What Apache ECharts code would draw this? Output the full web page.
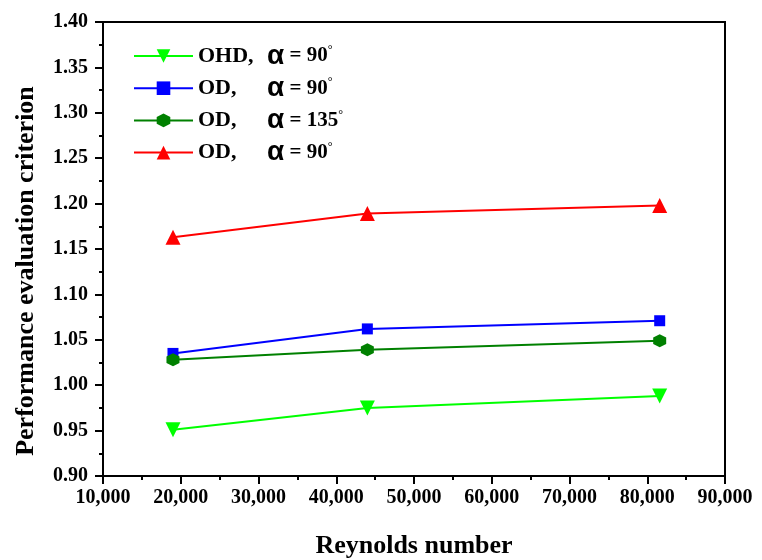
<!DOCTYPE html>
<html>
<head>
<meta charset="utf-8">
<script src="https://cdn.jsdelivr.net/npm/echarts@6/dist/echarts.min.js"></script>
<style>html,body{margin:0;padding:0;background:#fff}#c{width:762px;height:560px}</style>
</head>
<body>
<div id="c"></div>
<script>
var reynolds = [19000, 44000, 81600];
var ohd90 = [0.951, 0.975, 0.988];
var od90blue = [1.035, 1.062, 1.071];
var od135 = [1.028, 1.039, 1.049];
var od90red = [1.163, 1.189, 1.198];
var seriesNames = ['OHD, α = 90°', 'OD, α = 90° ', 'OD, α = 135°', 'OD,  α = 90°'];
var legendParts = [['OHD,', '90'], ['OD,', '90'], ['OD,', '135'], ['OD,', '90']];

function pairs(ys) { return reynolds.map(function (x, i) { return [x, ys[i]]; }); }
var serif = 'Liberation Serif';
var hexagon = 'path://M0,-10 L8.66,-5 L8.66,5 L0,10 L-8.66,5 L-8.66,-5 Z';

var chart = echarts.init(document.getElementById('c'));
chart.setOption({
  animation: false,
  backgroundColor: '#fff',
  grid: { left: 103, right: 37, top: 22, bottom: 84, outerBoundsMode: 'none', containLabel: false,
          show: true, borderColor: '#000', borderWidth: 2, backgroundColor: 'transparent' },
  legend: {
    orient: 'vertical', left: 133, top: 42, padding: 0, itemWidth: 59, itemHeight: 17, itemGap: 4.2,
    data: seriesNames,
    formatter: function (name) {
      var i = seriesNames.indexOf(name);
      var p = legendParts[i];
      return '{n|' + p[0] + '}{a|α}{b| = ' + p[1] + '}{d|°}';
    },
    textStyle: {
      color: '#000',
      rich: {
        n: { fontFamily: serif, fontWeight: 'bold', fontSize: 22, width: 69, lineHeight: 24, color: '#000' },
        a: { fontFamily: 'Liberation Sans', fontWeight: 'bold', fontSize: 28, lineHeight: 24, color: '#000' },
        b: { fontFamily: serif, fontWeight: 'bold', fontSize: 21, lineHeight: 24, color: '#000' },
        d: { fontFamily: serif, fontSize: 12, lineHeight: 24, verticalAlign: 'top', color: '#000' }
      }
    }
  },
  xAxis: {
    type: 'value', min: 10000, max: 90000, interval: 10000,
    name: 'Reynolds number', nameLocation: 'middle', nameGap: 57,
    nameTextStyle: { fontFamily: serif, fontWeight: 'bold', fontSize: 26, color: '#000' },
    axisLine: { show: true, lineStyle: { color: '#000', width: 2 } },
    axisTick: { show: true, inside: false, length: 8, lineStyle: { color: '#000', width: 2 } },
    minorTick: { show: true, splitNumber: 2, length: 4, lineStyle: { color: '#000', width: 2 } },
    splitLine: { show: false },
    axisLabel: {
      margin: 12, fontFamily: serif, fontWeight: 'bold', fontSize: 20, color: '#000',
      formatter: function (v) { return v.toLocaleString('en-US'); }
    }
  },
  yAxis: {
    type: 'value', min: 0.9, max: 1.4, interval: 0.05,
    name: 'Performance evaluation criterion', nameLocation: 'middle', nameGap: 64,
    nameTextStyle: { fontFamily: serif, fontWeight: 'bold', fontSize: 26, color: '#000', padding: [0, 44, 0, 0] },
    axisLine: { show: true, lineStyle: { color: '#000', width: 2 } },
    axisTick: { show: true, inside: false, length: 8, lineStyle: { color: '#000', width: 2 } },
    minorTick: { show: true, splitNumber: 2, length: 4, lineStyle: { color: '#000', width: 2 } },
    splitLine: { show: false },
    axisLabel: {
      margin: 15, fontFamily: serif, fontWeight: 'bold', fontSize: 20, color: '#000',
      formatter: function (v) { return v.toFixed(2); }
    }
  },
  series: [
    { name: seriesNames[0], type: 'line', data: pairs(ohd90), symbol: 'triangle', symbolRotate: 180, symbolSize: 15,
      lineStyle: { color: '#00ff00', width: 2 }, itemStyle: { color: '#00ff00' } },
    { name: seriesNames[1], type: 'line', data: pairs(od90blue), symbol: 'rect', symbolSize: 11,
      lineStyle: { color: '#0000ff', width: 2 }, itemStyle: { color: '#0000ff' } },
    { name: seriesNames[2], type: 'line', data: pairs(od135), symbol: hexagon, symbolSize: 13,
      lineStyle: { color: '#008000', width: 2 }, itemStyle: { color: '#008000' } },
    { name: seriesNames[3], type: 'line', data: pairs(od90red), symbol: 'triangle', symbolSize: 15,
      lineStyle: { color: '#ff0000', width: 2 }, itemStyle: { color: '#ff0000' } }
  ]
});
</script>
</body>
</html>
